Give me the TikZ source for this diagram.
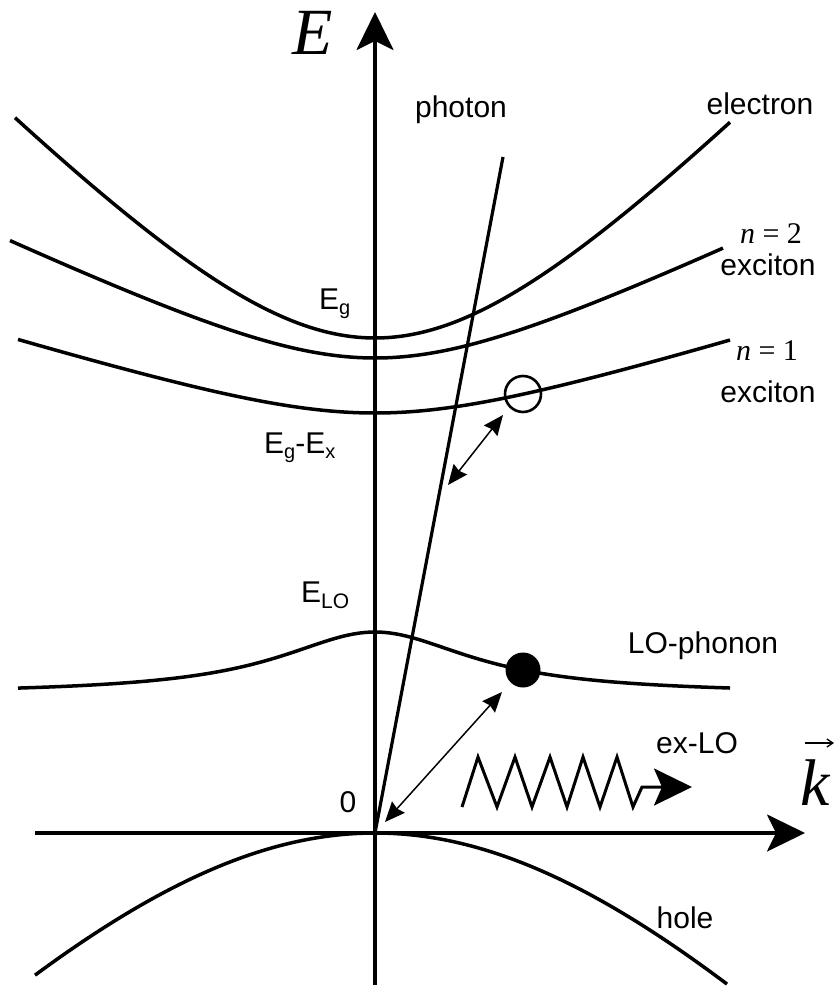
\documentclass[tikz,border=0pt]{standalone}
\usepackage{fontspec}
\setmainfont{Liberation Sans}
\newfontfamily\serifface{Liberation Serif}
\usetikzlibrary{arrows.meta}
\newcommand\mysub[1]{\raisebox{-5pt}{\fontsize{20}{20}\selectfont #1}}
\begin{document}
\begin{tikzpicture}[x=1pt,y=-1pt,
  band/.style={line width=3.5pt, line join=round},
  axisline/.style={line width=3.2pt},
  bigtip/.style={-{Stealth[length=38pt,width=37pt,inset=9pt]}},
  thinarr/.style={line width=1.5pt,
     {Stealth[length=20pt,width=17pt,inset=2pt]}-{Stealth[length=20pt,width=17pt,inset=2pt]}},
  lbl/.style={font=\fontsize{30}{30}\selectfont, inner sep=0pt, anchor=base},
  sym/.style={font=\serifface\itshape\fontsize{66}{66}\selectfont, inner sep=0pt, anchor=base},
  mth/.style={font=\serifface\fontsize{30}{30}\selectfont, inner sep=0pt, anchor=base}
]
\useasboundingbox (0,0) rectangle (839,987);

% coordinates
\coordinate (O) at (375,833);
\coordinate (Ebot) at (375,985);
\coordinate (Etop) at (375,12);
\coordinate (kleft) at (35,833);
\coordinate (kright) at (805,833);
\coordinate (ph) at (503,157);
\coordinate (a1) at (448,485);
\coordinate (a2) at (503,415);
\coordinate (b1) at (385,822);
\coordinate (b2) at (502,692);

% axes
\draw[axisline,bigtip] (Ebot) -- (Etop);
\draw[axisline,bigtip] (kleft) -- (kright);

% bands
\draw[band] plot[domain=-360:355,samples=120] ({375+\x},{338-208*(sqrt(1+(\x/200)*(\x/200))-1)});
\draw[band] plot[domain=-365:348,samples=120] ({375+\x},{358-72*(sqrt(1+(\x/150)*(\x/150))-1)});
\draw[band] plot[domain=-357:355,samples=120] ({375+\x},{413-46.5*(sqrt(1+(\x/150)*(\x/150))-1)});
\draw[band] plot[domain=-357:355,samples=120] ({375+\x},{694.2-62.2/(1+(\x/118)*(\x/118))});
\draw[band] plot[domain=-340:352,samples=120] ({375+\x},{833+455*(sqrt(1+(\x/400)*(\x/400))-1)});

% photon
\draw[axisline] (O) -- (ph);

% exciton and phonon markers
\node[circle, draw, line width=2.6pt, minimum size=36pt, inner sep=0pt] (exc) at (523,394) {};
\node[circle, fill, minimum size=35pt, inner sep=0pt] (lo) at (523,670) {};

% double arrows
\draw[thinarr] (a1) -- (a2);
\draw[thinarr] (b1) -- (b2);

% ex-LO zigzag
\draw[line width=3pt, line join=miter, -{Stealth[length=38pt,width=37pt,inset=8pt]}]
  (462,807) -- (478,757) -- (497,807) -- (515,757) -- (532,807) -- (550,757)
  -- (567,807) -- (583,757) -- (600,807) -- (617,757) -- (633,807) -- (642,787) -- (692,787);

% labels
\node[sym] (E) at (313,55) {E};
\node[sym] (k) at (815,805) {k};
\coordinate (kv1) at (805,743);
\coordinate (kv2) at (834,743);
\draw[line width=1.3pt, -{Straight Barb[length=6pt,width=8pt]}] (kv1) -- (kv2);
\node[lbl] (lphoton) at (461,118) {photon};
\node[lbl] (lelectron) at (760,115) {electron};
\node[mth] (ln2) at (771,243) {\textit{n} = 2};
\node[lbl] (lex2) at (768,275) {exciton};
\node[mth] (ln1) at (767,360) {\textit{n} = 1};
\node[lbl] (lex1) at (768,402) {exciton};
\node[lbl, anchor=base west] (lEg) at (319,309) {E\mysub{g}};
\node[lbl, anchor=base west] (lEgx) at (264,453) {E\mysub{g}-E\mysub{x}};
\node[lbl, anchor=base west] (lELO) at (301,602) {E\raisebox{-6pt}{\fontsize{21}{21}\selectfont LO}};
\node[lbl] (lLO) at (703,653) {LO-phonon};
\node[lbl] (lexLO) at (697,753) {ex-LO};
\node[lbl] (l0) at (348,812) {0};
\node[lbl] (lhole) at (685,928) {hole};
\end{tikzpicture}
\end{document}
